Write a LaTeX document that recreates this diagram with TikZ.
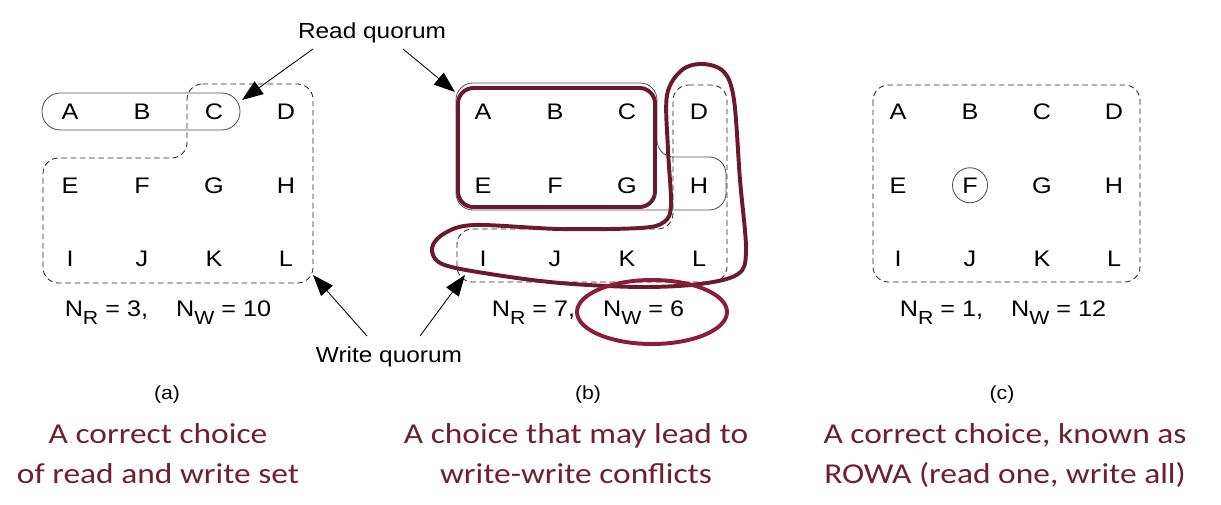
\documentclass[tikz,border=0pt]{standalone}
\usepackage{fontspec}
\setmainfont{Liberation Sans}[FakeStretch=1.12]
\newfontfamily\calfont{Carlito}[FakeStretch=1.16]
\usetikzlibrary{arrows.meta}
\definecolor{qmaroon}{RGB}{107,26,46}
\definecolor{qred}{RGB}{140,28,58}
\definecolor{qtext}{RGB}{112,30,50}
\definecolor{qgray}{RGB}{80,80,80}
\newcommand{\qsub}[1]{\raisebox{-5.7pt}{\fontsize{13.5}{13.5}\selectfont #1}}
\begin{document}
\begin{tikzpicture}[x=0.025cm,y=-0.025cm,
  letter/.style={anchor=base, inner sep=0pt, font=\fontsize{16}{16}\selectfont},
  nlabel/.style={anchor=base, inner sep=0pt, font=\fontsize{16}{16}\selectfont},
  sublabel/.style={anchor=base, inner sep=0pt, font=\fontsize{13.5}{13.5}\selectfont},
  caption/.style={anchor=base, inner sep=0pt, text=qtext, font=\calfont\fontsize{20.5}{20.5}\selectfont},
  callout/.style={anchor=base, inner sep=0pt, font=\fontsize{15.5}{15.5}\selectfont},
  quorum/.style={draw=qgray, line width=0.6pt},
  dashquorum/.style={draw=black!85, line width=0.6pt, dash pattern=on 4pt off 2.6pt, rounded corners=11pt},
  redline/.style={draw=qmaroon, line width=2.8pt},
  pointer/.style={-{Triangle[length=15pt,width=11pt]}, line width=0.6pt}
]
\useasboundingbox (0,0) rectangle (1221,505);

% grid letters
\foreach \p/\x in {a/70,b/483,c/898}{
  \foreach \q [count=\i from 0] in {A,B,C,D,E,F,G,H,I,J,K,L}{
    \pgfmathtruncatemacro\col{mod(\i,4)}
    \pgfmathtruncatemacro\row{div(\i,4)}
    \node[letter] (\p\q) at ({\x+72*\col},{120+73*\row}) {\q};
  }
}

% ---------- (a)
\draw[quorum, rounded corners=13pt] (42,93) rectangle (240,130);
\draw[dashquorum] (187,84) -- (313,84) -- (313,283) -- (43,283) -- (43,158) -- (187,158) -- cycle;
\node[nlabel] (nla) at (168,316) {N\qsub{R} = 3,\hspace{20pt}N\qsub{W} = 10};
\node[sublabel] (sla) at (167,399) {(a)};
\node[caption] (ca1) at (158,443) {A correct choice};
\node[caption] (ca2) at (158,483) {of read and write set};

% ---------- (b)
\draw[quorum, rounded corners=12pt] (456,83) -- (657,83) -- (657,157) -- (726,157) -- (726,210) -- (456,210) -- cycle;
\draw[redline, rounded corners=11pt] (458,88) rectangle (655,207);
\draw[dashquorum] (673,85) -- (727,85) -- (727,282) -- (457,282) -- (457,229) -- (673,229) -- cycle;
\draw[redline] plot[smooth cycle, tension=0.55] coordinates {
  (703,64) (724,72) (734,100) (740,180) (746,250) (738,274) (700,284)
  (640,287) (560,283) (490,274) (442,264) (432,248) (445,233) (475,225)
  (560,229) (640,228) (664,222) (671,205) (668,150) (667,95) (682,70)};
\node[nlabel] (nlb) at (588,316) {N\qsub{R} = 7,\hspace{20pt}N\qsub{W} = 6};
\draw[draw=qred, line width=2.8pt] (652,312) ellipse [x radius=75, y radius=32];
\node[sublabel] (slb) at (588,399) {(b)};
\node[caption] (cb1) at (576,443) {A choice that may lead to};
\node[caption] (cb2) at (576,483) {write-write conflicts};

% ---------- (c)
\draw[dashquorum] (873,85) rectangle (1140,282);
\draw[quorum] (cF.center) circle [radius=17.5];
\node[nlabel] (nlc) at (1003,316) {N\qsub{R} = 1,\hspace{20pt}N\qsub{W} = 12};
\node[sublabel] (slc) at (1002,399) {(c)};
\node[caption] (cc1) at (1005,443) {A correct choice, known as};
\node[caption] (cc2) at (1005,483) {ROWA (read one, write all)};

% ---------- callouts
\node[callout] (rq) at (372,39) {Read quorum};
\node[callout] (wq) at (389,362) {Write quorum};
\coordinate (rqa) at (313,49); \coordinate (tipa) at (242,100);
\coordinate (rqb) at (403,49); \coordinate (tipb) at (455,92);
\coordinate (wqa) at (367,336); \coordinate (wtipa) at (313,275);
\coordinate (wqb) at (420,336); \coordinate (wtipb) at (465,275);
\draw[pointer] (rqa) -- (tipa);
\draw[pointer] (rqb) -- (tipb);
\draw[pointer] (wqa) -- (wtipa);
\draw[pointer] (wqb) -- (wtipb);
\end{tikzpicture}
\end{document}
